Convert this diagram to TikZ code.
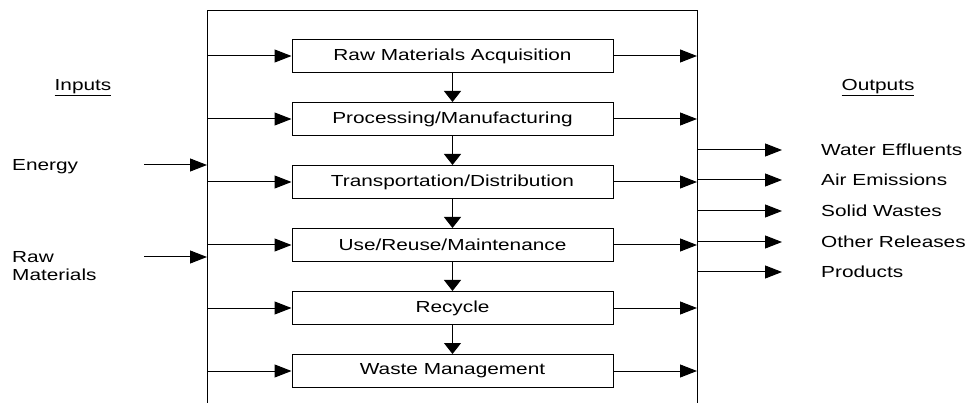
\documentclass[tikz,border=0pt]{standalone}
\usepackage{fontspec}
\setmainfont[FakeStretch=1.3]{Liberation Sans}
\usetikzlibrary{arrows.meta}
\usetikzlibrary{positioning}

\begin{document}
\begin{tikzpicture}
	[x=1pt, y=-1pt, node distance=29pt,
	every node/.style = {inner sep=0pt, font=\fontsize{16}{18}\selectfont},
	stage/.style = {shape=rectangle, draw, line width=1pt,
		minimum width=321pt, minimum height=33pt},
	caption/.style = {text height=11.5pt, text depth=0pt},
	flow/.style = {draw, line width=1pt, -{Triangle[length=17pt,width=13pt]}},
	drop/.style = {draw, line width=1pt, -{Triangle[length=11pt,width=17pt]}}]
	\useasboundingbox (0,0) rectangle (966,403);
	% outer frame, open at the bottom
	\coordinate (frameSW) at (207,403);
	\coordinate (frameNW) at (207,11);
	\coordinate (frameNE) at (697,11);
	\coordinate (frameSE) at (697,403);
	\draw[line width=1pt] (frameSW) -- (frameNW) -- (frameNE) -- (frameSE);
	% stages
	\node[stage] (raw) at (452.5,56) {Raw Materials Acquisition};
	\node[stage, below=of raw] (proc) {Processing/Manufacturing};
	\node[stage, below=of proc] (trans) {Transportation/Distribution};
	\node[stage, below=of trans] (use) {Use/Reuse/Maintenance};
	\node[stage, below=of use] (recy) {Recycle};
	\node[stage, below=of recy] (waste) {Waste Management};
	\draw[drop] (raw) -- (proc);
	\draw[drop] (proc) -- (trans);
	\draw[drop] (trans) -- (use);
	\draw[drop] (use) -- (recy);
	\draw[drop] (recy) -- (waste);
	% frame to stages and back
	\draw[flow] (raw -| frameNW) -- (raw.west);
	\draw[flow] (proc -| frameNW) -- (proc.west);
	\draw[flow] (trans -| frameNW) -- (trans.west);
	\draw[flow] (use -| frameNW) -- (use.west);
	\draw[flow] (recy -| frameNW) -- (recy.west);
	\draw[flow] (waste -| frameNW) -- (waste.west);
	\draw[flow] (raw.east) -- (raw -| frameNE);
	\draw[flow] (proc.east) -- (proc -| frameNE);
	\draw[flow] (trans.east) -- (trans -| frameNE);
	\draw[flow] (use.east) -- (use -| frameNE);
	\draw[flow] (recy.east) -- (recy -| frameNE);
	\draw[flow] (waste.east) -- (waste -| frameNE);
	% inputs
	\node (inputs) at (83,88) {\underline{Inputs}};
	\node[caption, anchor=west] (energy) at (12,165) {Energy};
	\node[anchor=north west, align=left] (rawmat) at (12,251) {Raw\\Materials};
	\coordinate (energyTail) at (144,165);
	\coordinate (rawmatTail) at (144,257);
	\draw[flow] (energyTail) -- (energyTail -| frameNW);
	\draw[flow] (rawmatTail) -- (rawmatTail -| frameNW);
	% outputs
	\node (outputs) at (878,88) {\underline{Outputs}};
	\node[caption, anchor=west] (water) at (821,150) {Water Effluents};
	\node[caption, anchor=west] (air) at (821,180) {Air Emissions};
	\node[caption, anchor=west] (solid) at (821,211) {Solid Wastes};
	\node[caption, anchor=west] (other) at (821,242) {Other Releases};
	\node[caption, anchor=west] (prod) at (821,272) {Products};
	\draw[flow] (water -| frameNE) -- ([xshift=-39pt]water.west);
	\draw[flow] (air -| frameNE) -- ([xshift=-39pt]air.west);
	\draw[flow] (solid -| frameNE) -- ([xshift=-39pt]solid.west);
	\draw[flow] (other -| frameNE) -- ([xshift=-39pt]other.west);
	\draw[flow] (prod -| frameNE) -- ([xshift=-39pt]prod.west);
\end{tikzpicture}
\end{document}
